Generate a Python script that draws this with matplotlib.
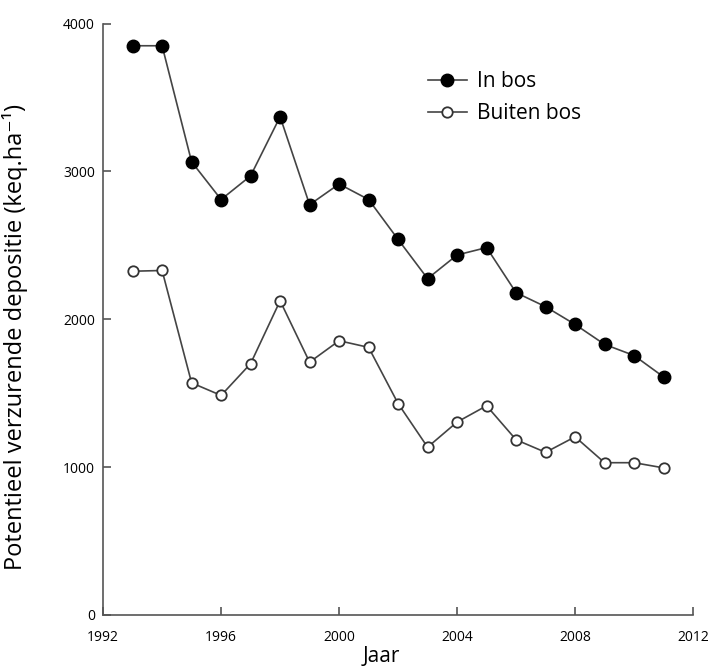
import matplotlib.pyplot as plt

plt.rcParams['font.family'] = ['Open Sans', 'DejaVu Sans']

jaren = list(range(1993, 2012))
in_bos = [3850, 3850, 3065, 2810, 2970, 3370, 2775, 2915, 2810, 2540,
          2275, 2435, 2485, 2180, 2085, 1965, 1830, 1755, 1610]
buiten_bos = [2325, 2330, 1570, 1485, 1700, 2125, 1710, 1855, 1810, 1430,
              1135, 1305, 1415, 1185, 1100, 1205, 1030, 1030, 995]

fig = plt.figure(figsize=(7.16, 6.66), dpi=100)
ax = fig.add_axes([0.144, 0.0766, 0.824, 0.888])

ax.plot(jaren, in_bos, color='#444444', linewidth=1.2, marker='o',
        markersize=9, markerfacecolor='black', markeredgecolor='black',
        label='In bos')
ax.plot(jaren, buiten_bos, color='#444444', linewidth=1.2, marker='o',
        markersize=7.5, markerfacecolor='white', markeredgecolor='#333333',
        markeredgewidth=1.3, label='Buiten bos')

ax.set_xlim(1992, 2012)
ax.set_ylim(0, 4000)
ax.set_xticks([1992, 1996, 2000, 2004, 2008, 2012])
ax.set_yticks([0, 1000, 2000, 3000, 4000])

ax.spines['top'].set_visible(False)
ax.spines['right'].set_visible(False)
for s in ['left', 'bottom']:
    ax.spines[s].set_color('#555555')
    ax.spines[s].set_linewidth(1.2)
ax.tick_params(direction='in', length=6, width=1.2, color='#555555',
               labelsize=10, pad=6)
ax.tick_params(axis='x', pad=11)

ax.set_xlabel('Jaar', fontsize=15)
ax.xaxis.set_label_coords(0.471, -0.052)
ax.set_ylabel('Potentieel verzurende depositie (keq.ha⁻¹)', fontsize=17)
ax.yaxis.set_label_coords(-0.127, 0.47)

ax.legend(loc='upper left', bbox_to_anchor=(0.55, 0.92), frameon=False,
          fontsize=15, handlelength=1.9, handletextpad=0.45, labelspacing=0.55,
          borderpad=0, borderaxespad=0)

plt.savefig('out.png')
